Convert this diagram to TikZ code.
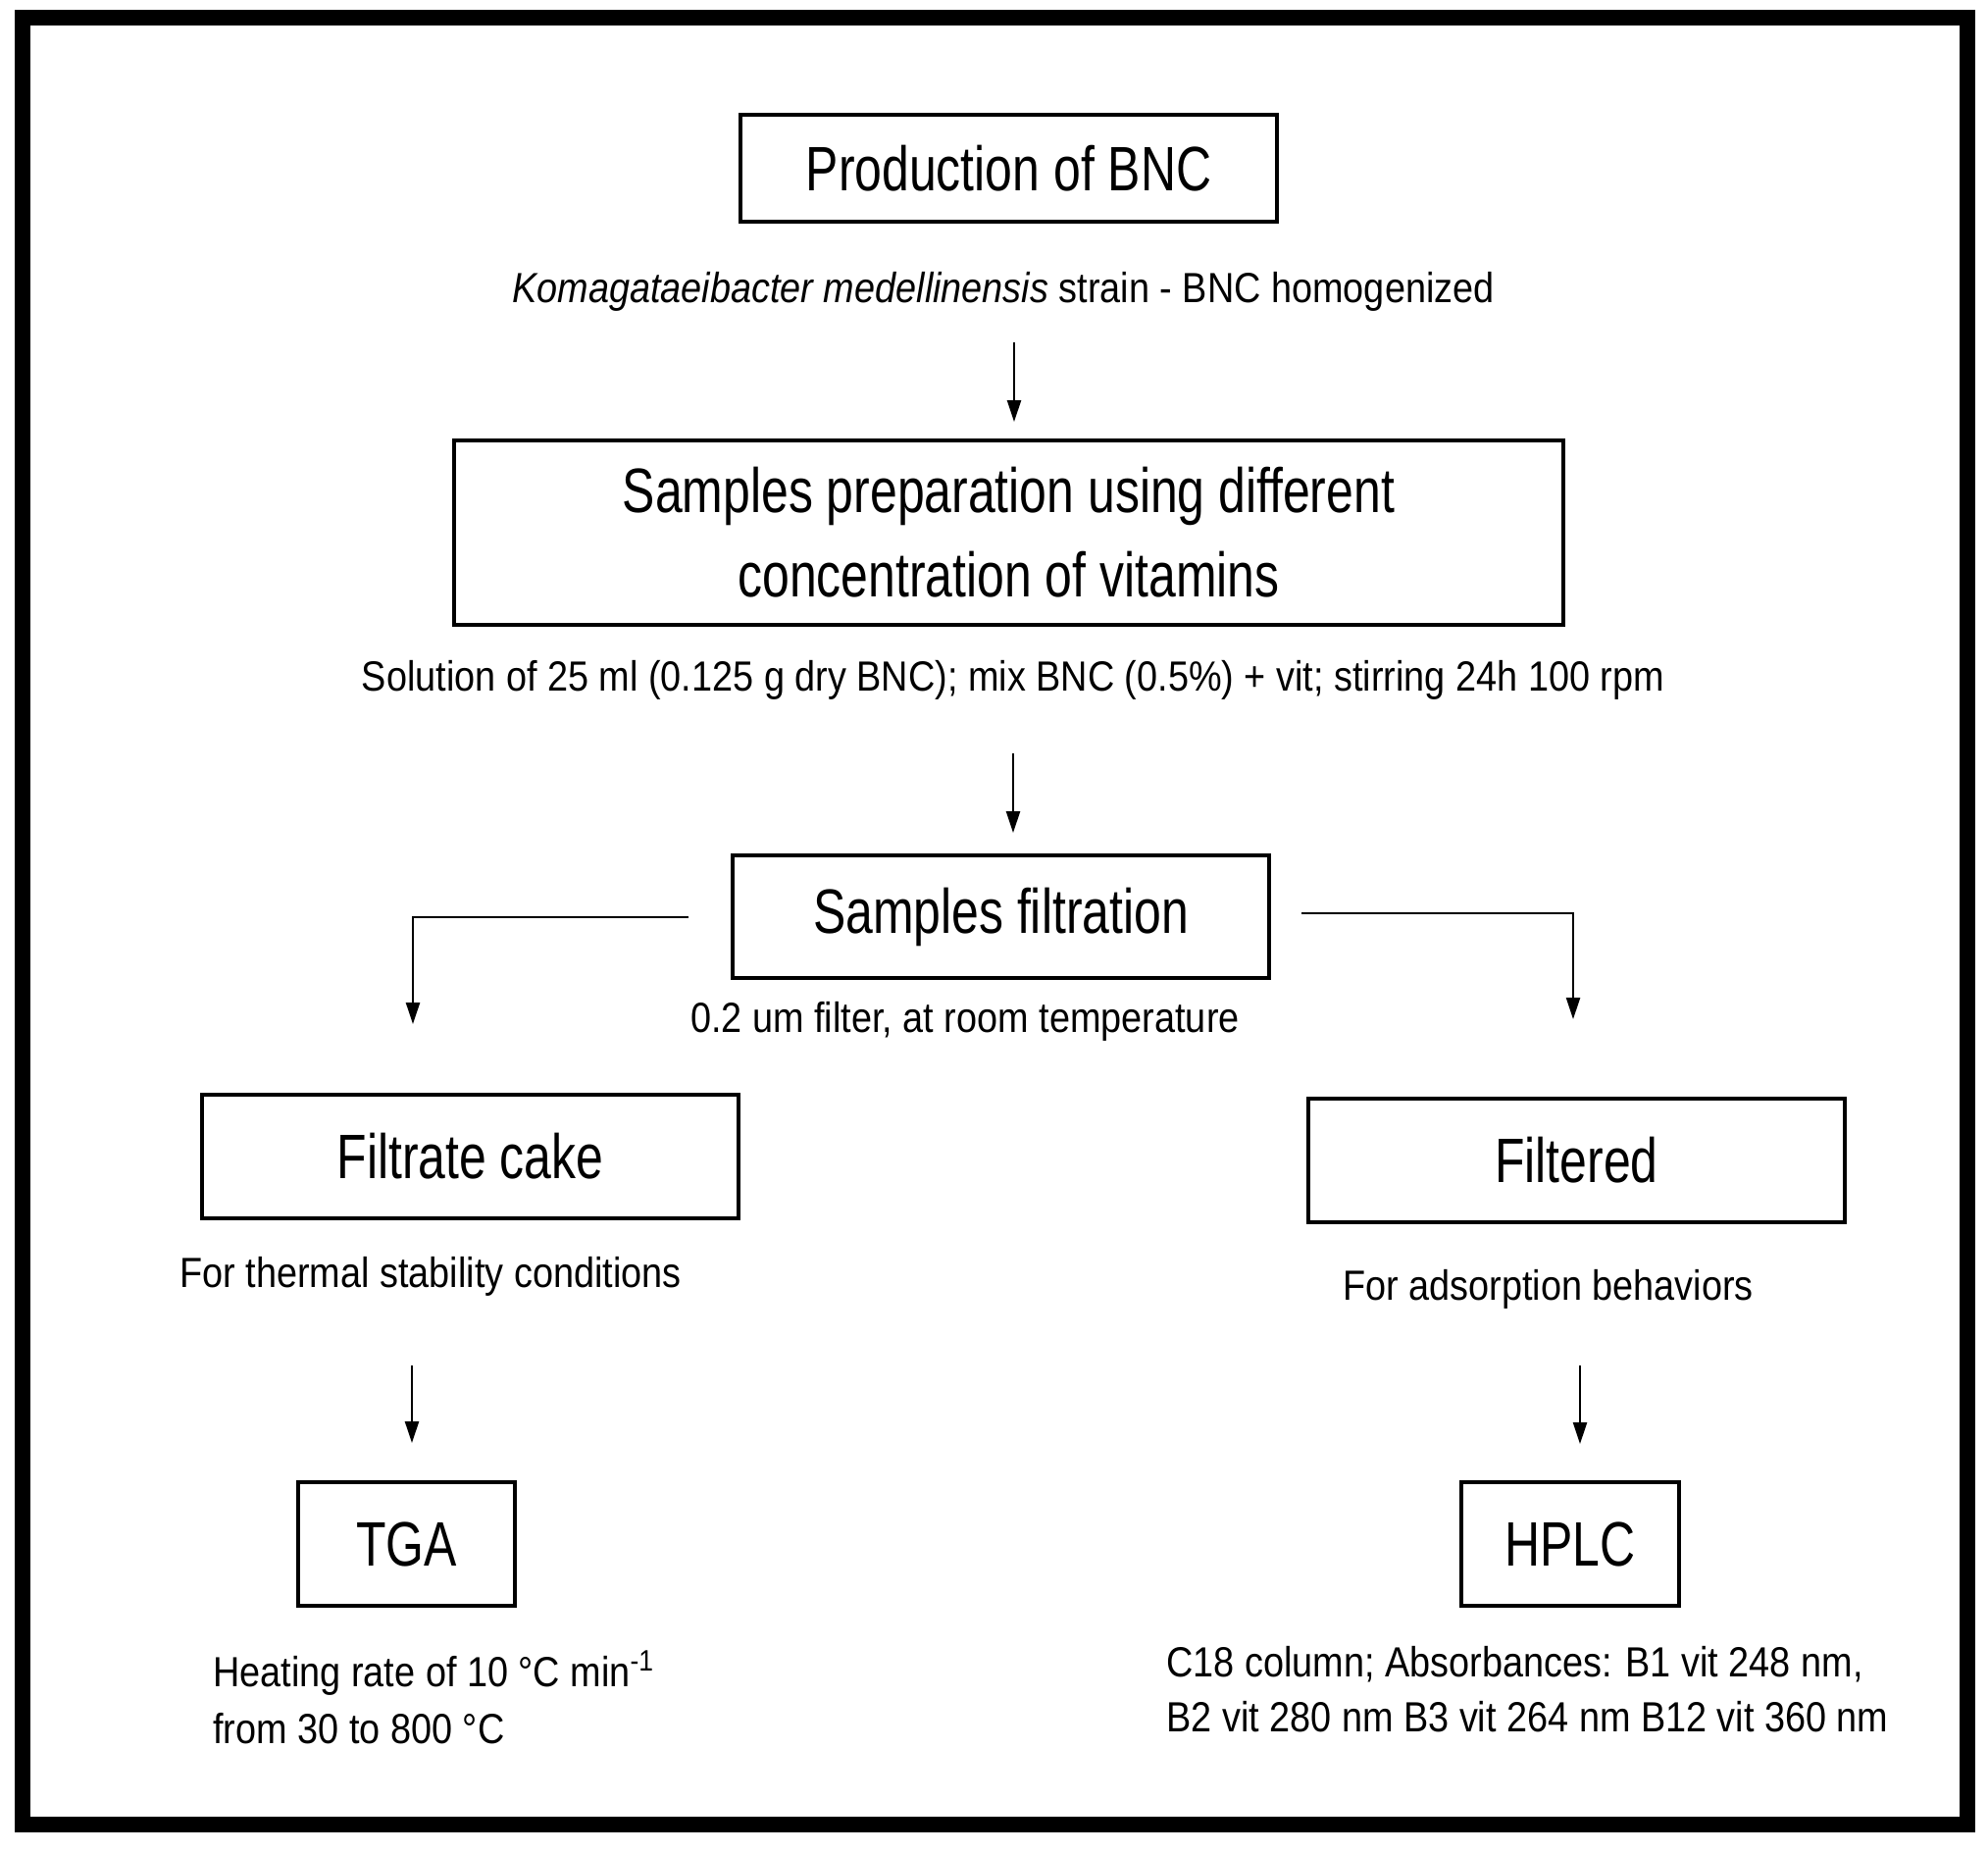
\documentclass[tikz,border=0pt]{standalone}
\usepackage{fontspec}
\setmainfont{Liberation Sans}[FakeStretch=0.88]
\newfontfamily\boxfont{Liberation Sans}[FakeStretch=0.78]
\usetikzlibrary{arrows.meta}
\begin{document}
\begin{tikzpicture}[x=0.5pt,y=-0.5pt,
	box/.style={draw,line width=1.7pt,inner sep=0pt,align=center,
		font=\boxfont\fontsize{32pt}{43pt}\selectfont},
	note/.style={inner sep=0pt,anchor=base,font=\fontsize{21.5pt}{29pt}\selectfont},
	arr/.style={line width=1.2pt,-{Triangle[length=11pt,width=7pt]}}]
\useasboundingbox (0,0) rectangle (2027,1887);
\draw[line width=8pt] (23,17.5) rectangle (2006,1860);
\node[box,minimum width=273.5pt,minimum height=54.5pt] (prod) at (1028.5,171.5) {Production of BNC};
\node[note] (kmnote) at (1023,308) {\textit{Komagataeibacter medellinensis} strain - BNC homogenized};
\node[box,minimum width=565.5pt,minimum height=94pt] (prep) at (1028.5,543) {Samples preparation using different\\concentration of vitamins};
\node[note] (solnote) at (1033,704) {Solution of 25 ml (0.125 g dry BNC); mix BNC (0.5\%) + vit; stirring 24h 100 rpm};
\node[box,minimum width=273.5pt,minimum height=62.5pt] (filt) at (1020.5,934.5) {Samples filtration};
\node[note] (filtnote) at (984,1052) {0.2 um filter, at room temperature};
\node[box,minimum width=273.5pt,minimum height=63pt] (cake) at (479.5,1179) {Filtrate cake};
\node[note] (thermnote) at (439,1312) {For thermal stability conditions};
\node[box,minimum width=273.5pt,minimum height=63pt] (filtered) at (1607.5,1183) {Filtered};
\node[note] (adsnote) at (1578.5,1325) {For adsorption behaviors};
\node[box,minimum width=110.5pt,minimum height=63pt] (tga) at (414.5,1574) {TGA};
\node[note,anchor=base west,align=left] (heatnote) at (217,1777) {Heating rate of 10 °C min\textsuperscript{-1}\\from 30 to 800 °C};
\node[box,minimum width=111pt,minimum height=63pt] (hplc) at (1601,1574) {HPLC};
\node[note,anchor=base west,align=left,font=\fontsize{21.5pt}{28pt}\selectfont] (hplcnote) at (1189,1765) {C18 column; Absorbances: B1 vit 248 nm,\\B2 vit 280 nm B3 vit 264 nm B12 vit 360 nm};
\coordinate (prodout) at (1034,349);
\coordinate (prepin) at (1034,430);
\coordinate (prepout) at (1033,768);
\coordinate (filtin) at (1033,849);
\coordinate (filtleft) at (702,935);
\coordinate (cakein) at (421,1044);
\coordinate (filtright) at (1327,931);
\coordinate (filteredin) at (1604,1039);
\coordinate (cakeout) at (420,1392);
\coordinate (tgain) at (420,1471);
\coordinate (filteredout) at (1611,1392);
\coordinate (hplcin) at (1611,1472);
\draw[arr] (prodout) -- (prepin);
\draw[arr] (prepout) -- (filtin);
\draw[arr] (filtleft) -| (cakein);
\draw[arr] (filtright) -| (filteredin);
\draw[arr] (cakeout) -- (tgain);
\draw[arr] (filteredout) -- (hplcin);
\end{tikzpicture}
\end{document}
